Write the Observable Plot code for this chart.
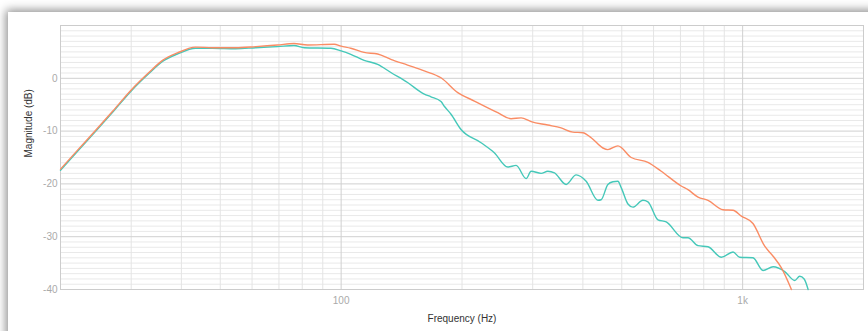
<!DOCTYPE html>
<html>
<head>
<meta charset="utf-8">
<script src="https://cdn.jsdelivr.net/npm/d3@7"></script>
<script src="https://cdn.jsdelivr.net/npm/@observablehq/plot@0.6"></script>
<style>
  html, body { margin: 0; padding: 0; background: #fff; overflow: hidden; width: 868px; height: 331px; }
  #card { position: absolute; left: 8px; top: 12px; width: 900px; height: 400px; background: #fff;
          box-shadow: 0 0 9px 2px rgba(0,0,0,0.45); }
  #chart { position: absolute; left: 0; top: 0; }
</style>
</head>
<body>
<div id="card"></div>
<div id="chart"></div>
<script>
// Frequencies (Hz) and magnitudes (dB)
const freqTeal = [20, 22, 24.5, 27, 30, 33.2, 35.9, 39.1, 43.4, 47.8, 54.6, 61.3, 69.4, 76.3, 80.9, 94.3, 100,
  105.7, 114.1, 123.3, 133, 146.4, 161.1, 167.4, 177.3, 180.7, 187.8, 198.9, 223.1, 240.7, 260, 272.8, 288.9,
  297.3, 314.8, 327.1, 339.8, 363.4, 384.9, 407.6, 436, 444.3, 461.7, 475.2, 489, 498.4, 518, 533, 564.5, 581,
  615.2, 645.2, 710.3, 730.9, 774.2, 819.9, 885, 946.4, 982.9, 1061, 1124, 1191, 1273, 1348, 1387, 1423, 1456];
const magTeal = [-17.4, -13.9, -10.0, -6.4, -2.4, 0.9, 3.2, 4.6, 5.7, 5.7, 5.6, 5.8, 6.0, 6.2, 5.8, 5.7, 5.2,
  4.55, 3.4, 2.65, 1.1, -0.8, -3.0, -3.5, -4.4, -5.3, -6.8, -9.7, -12.2, -14.1, -16.8, -16.5, -19.0,
  -17.6, -18.0, -17.6, -17.9, -20.1, -18.3, -19.5, -23.1, -23.0, -20.1, -19.6, -19.5, -20.7, -23.8, -24.4, -23.1, -23.4,
  -26.8, -27.2, -30.2, -30.2, -31.7, -31.9, -33.9, -32.9, -33.9, -34.0, -36.4, -35.7, -36.6, -38.3, -37.5, -38.0, -40];

const freqOrange = [20, 22, 24.5, 27, 30, 33.2, 35.9, 39.1, 43.4, 47.8, 54.6, 61.3, 69.4, 76.3, 82.5, 96.1, 100,
  105.7, 114.1, 123.3, 133, 146.4, 161.1, 177.3, 195.2, 214.7, 245.5, 265, 280.7, 297.3, 327.1, 353.1, 377.6,
  400, 419.5, 448.7, 461.7, 489, 527.8, 581, 627, 703.3, 730.9, 774.2, 819.9, 893.6, 946.4, 992.7, 1061,
  1135, 1191, 1249, 1323];
const magOrange = [-17.2, -13.7, -9.8, -6.2, -2.2, 1.1, 3.4, 4.8, 5.9, 5.8, 5.8, 6.0, 6.3, 6.6, 6.3, 6.45, 6.1,
  5.7, 4.9, 4.6, 3.6, 2.5, 1.4, 0.1, -2.7, -4.3, -6.5, -7.65, -7.5, -8.2, -8.85, -9.4, -10.2,
  -10.3, -11.25, -13.2, -13.5, -12.8, -15.0, -15.9, -17.6, -20.4, -21.1, -22.5, -23.1, -24.9, -25.0, -26.1, -27.5,
  -31.8, -33.7, -35.9, -40];

const xMajor = [100, 1000];
const xMinor = [20, 30, 40, 50, 60, 70, 80, 90, 200, 300, 400, 500, 600, 700, 800, 900];
const yMajor = [-40, -30, -20, -10, 0];
const yMinor = d3.range(-40, 11, 1).filter(v => v % 10 !== 0);

const teal = freqTeal.map((f, i) => ({f, db: magTeal[i]}));
const orange = freqOrange.map((f, i) => ({f, db: magOrange[i]}));

const chart = Plot.plot({
  width: 868,
  height: 331,
  marginLeft: 60,
  marginRight: 5,
  marginTop: 25,
  marginBottom: 42,
  style: {fontFamily: "'Liberation Sans', Arial, Helvetica, sans-serif", fontSize: "10px", background: "transparent"},
  x: {type: "log", domain: [20, 2000]},
  y: {domain: [-40, 10]},
  marks: [
    Plot.ruleY(yMinor, {stroke: "#e9e9e9", strokeWidth: 1}),
    Plot.ruleX(xMinor, {stroke: "#e4e4e4", strokeWidth: 1}),
    Plot.ruleY(yMajor, {stroke: "#d0d0d0", strokeWidth: 1}),
    Plot.ruleX(xMajor, {stroke: "#d0d0d0", strokeWidth: 1}),
    Plot.frame({stroke: "#cccccc"}),
    Plot.axisX({ticks: xMajor, tickSize: 0, tickPadding: 7, label: null, fill: "#aaa",
      tickFormat: d => d >= 1000 ? (d / 1000) + "k" : String(d)}),
    Plot.axisY({ticks: yMajor, tickSize: 0, tickPadding: 3, label: null, fill: "#aaa",
      tickFormat: d => String(d)}),
    Plot.line(teal, {x: "f", y: "db", stroke: "#45c8b9", strokeWidth: 1.4, curve: "monotone-x"}),
    Plot.line(orange, {x: "f", y: "db", stroke: "#fa8c64", strokeWidth: 1.4, curve: "monotone-x"}),
    Plot.text(["Frequency (Hz)"], {frameAnchor: "bottom", dy: 32, fill: "#333", fontSize: 10}),
    Plot.text(["Magnitude (dB)"], {frameAnchor: "left", dx: -32, rotate: -90, fill: "#333", fontSize: 10})
  ]
});
document.getElementById("chart").appendChild(chart);
</script>
</body>
</html>
